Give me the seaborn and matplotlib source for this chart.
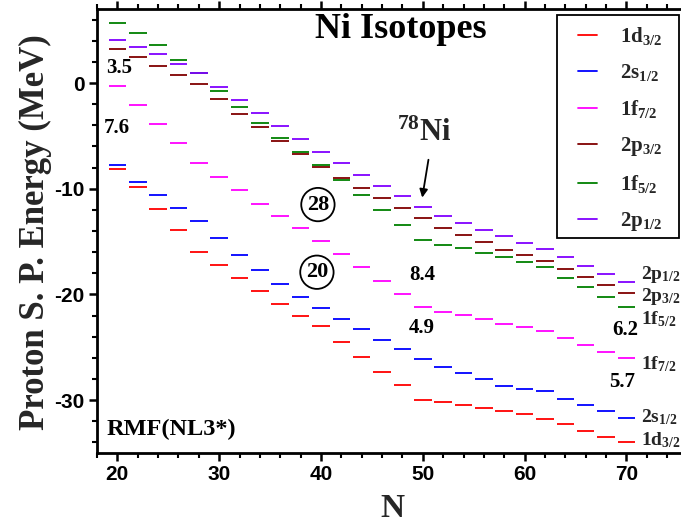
import matplotlib
matplotlib.use("Agg")
import matplotlib.pyplot as plt
import seaborn as sns
import pandas as pd
from matplotlib.lines import Line2D
from matplotlib.patches import Rectangle
from matplotlib.ticker import MultipleLocator

# ---------------- data ----------------
N = list(range(20, 72, 2))
e_1d32 = [-8.1, -9.85, -11.9, -13.9, -16.0, -17.2, -18.45, -19.7, -20.9, -22.0, -23.0, -24.5, -25.9,
          -27.3, -28.6, -30.0, -30.2, -30.5, -30.7, -31.0, -31.35, -31.75, -32.3, -32.9, -33.45, -34.0]
e_2s12 = [-7.8, -9.35, -10.6, -11.85, -13.1, -14.7, -16.25, -17.7, -19.05, -20.25, -21.25, -22.3, -23.3,
          -24.3, -25.2, -26.15, -26.85, -27.4, -28.0, -28.7, -28.95, -29.15, -29.85, -30.45, -31.05, -31.7]
e_1f72 = [-0.3, -2.1, -3.85, -5.7, -7.6, -8.85, -10.1, -11.4, -12.6, -13.75, -14.9, -16.2, -17.45,
          -18.75, -19.95, -21.2, -21.65, -21.95, -22.3, -22.75, -23.1, -23.5, -24.15, -24.75, -25.4, -26.0]
e_2p32 = [3.2, 2.45, 1.6, 0.75, -0.1, -1.55, -2.9, -4.2, -5.5, -6.7, -7.95, -8.95, -9.95,
          -10.9, -11.85, -12.8, -13.7, -14.35, -15.05, -15.8, -16.3, -16.8, -17.6, -18.35, -19.1, -19.85]
e_1f52 = [5.7, 4.75, 3.6, 2.2, 0.95, -0.75, -2.3, -3.8, -5.2, -6.55, -7.75, -9.2, -10.6,
          -12.05, -13.4, -14.85, -15.3, -15.6, -16.05, -16.5, -16.95, -17.4, -18.4, -19.3, -20.25, -21.15]
e_2p12 = [4.1, 3.4, 2.7, 1.8, 0.9, -0.4, -1.65, -2.85, -4.05, -5.3, -6.55, -7.6, -8.7,
          -9.7, -10.7, -11.7, -12.6, -13.25, -13.9, -14.5, -15.1, -15.7, -16.5, -17.3, -18.1, -18.8]

levels = ["1d3/2", "2s1/2", "1f7/2", "2p3/2", "1f5/2", "2p1/2"]
energies = [e_1d32, e_2s12, e_1f72, e_2p32, e_1f52, e_2p12]
colors = ["#FF0000", "#0000FF", "#FF00FF", "#800000", "#008000", "#8000FF"]
tex_labels = [r"$\mathbf{1d}_{\mathbf{3/2}}$", r"$\mathbf{2s}_{\mathbf{1/2}}$",
              r"$\mathbf{1f}_{\mathbf{7/2}}$", r"$\mathbf{2p}_{\mathbf{3/2}}$",
              r"$\mathbf{1f}_{\mathbf{5/2}}$", r"$\mathbf{2p}_{\mathbf{1/2}}$"]
gap_values = ["3.5", "7.6", "8.4", "4.9", "6.2", "5.7"]
magic_numbers = ["28", "20"]

df = pd.concat([pd.DataFrame({"N": N, "E": e, "level": lv}) for lv, e in zip(levels, energies)],
               ignore_index=True)

# ---------------- style ----------------
sns.set_theme(style="ticks")
plt.rcParams.update({
    "font.family": ["Liberation Serif", "DejaVu Serif"],
    "mathtext.fontset": "custom",
    "mathtext.rm": "Liberation Serif",
    "mathtext.bf": "Liberation Serif:bold",
    "mathtext.it": "Liberation Serif:italic",
    "axes.unicode_minus": False,
})

fig = plt.figure(figsize=(6.81, 5.25), dpi=100)
ax = fig.add_axes([97 / 681, 72 / 525, 590.5 / 681, 444 / 525])

sns.scatterplot(data=df, x="N", y="E", hue="level", hue_order=levels,
                palette=dict(zip(levels, colors)), marker="_", s=160,
                linewidth=1.3, legend=False, ax=ax)

ax.set_xlim(18, 76)
ax.set_ylim(-35, 7)
ax.xaxis.set_major_locator(MultipleLocator(10))
ax.xaxis.set_minor_locator(MultipleLocator(2))
ax.yaxis.set_major_locator(MultipleLocator(10))
ax.yaxis.set_minor_locator(MultipleLocator(2))

for sp in ax.spines.values():
    sp.set_linewidth(2.0)
    sp.set_color("black")

ax.tick_params(which="major", direction="out", length=6, width=1.8, colors="black",
               labelsize=15, pad=3)
ax.tick_params(which="minor", direction="out", length=3.5, width=1.5, colors="black")
ax.tick_params(axis="x", which="both", top=True)
for lab in ax.get_xticklabels() + ax.get_yticklabels():
    lab.set_fontfamily("Liberation Sans")
    lab.set_fontweight("bold")

ax.set_xlabel("N", fontsize=24, fontweight="bold")
ax.set_ylabel("Proton S. P. Energy (MeV)", fontsize=25, fontweight="bold")
ax.xaxis.set_label_coords(0.4996, -0.09)
ax.yaxis.set_label_coords(-0.077, 0.497)

# ---------------- annotations ----------------
bold = dict(fontweight="bold", color="black")
ax.text(47.8, 5.1, "Ni Isotopes", fontsize=26, ha="center", va="center", **bold)
ax.text(18.95, -32.8, "RMF(NL3*)", fontsize=17.5, ha="left", va="center", **bold)

gap_pos = [(20.2, 1.4), (19.9, -4.3), (49.9, -18.2), (49.9, -23.2), (69.85, -23.4), (69.6, -28.3)]
for (x, y), t in zip(gap_pos, gap_values):
    ax.text(x, y, t, fontsize=15, ha="center", va="center", **bold)

for (x, y), t in zip([(39.7, -11.5), (39.6, -17.9)], magic_numbers):
    ax.text(x, y, t, fontsize=16, ha="center", va="center",
            bbox=dict(boxstyle="circle,pad=0.25", fc="none", ec="black", lw=1.3), **bold)

ax.text(50.1, -4.8, r"$^{\mathbf{78}}\mathbf{Ni}$", fontsize=22, ha="center", va="center")
ax.annotate("", xy=(49.9, -11.1), xytext=(50.6, -7.0),
            arrowprops=dict(arrowstyle="-|>", lw=1.3, color="black", mutation_scale=12))

right_pos = [-33.8, -31.6, -26.6, -20.15, -22.3, -18.1]
for lab, y in zip(tex_labels, right_pos):
    ax.text(71.45, y, lab, fontsize=14, ha="left", va="center")

# ---------------- legend ----------------
box = Rectangle((557 / 681, 1 - 238 / 525), 122 / 681, 223 / 525, transform=fig.transFigure,
                fc="white", ec="black", lw=1.3, zorder=5)
fig.patches.append(box)
handles = [Line2D([], [], color=c, lw=1.3) for c in colors]
leg = fig.legend(handles, tex_labels, loc="upper left",
                 bbox_to_anchor=(578 / 681, 1 - 25 / 525), bbox_transform=fig.transFigure,
                 fontsize=15, handlelength=0.92, handletextpad=1.1, labelspacing=0.72,
                 borderpad=0, frameon=False, borderaxespad=0)
leg.set_zorder(6)

fig.savefig("out.png", dpi=100)
